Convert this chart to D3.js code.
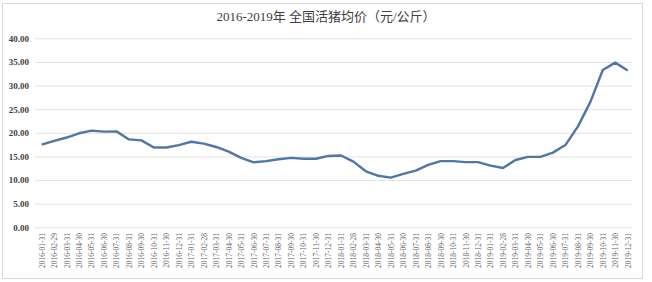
<!DOCTYPE html>
<html>
<head>
<meta charset="utf-8">
<style>
    body { margin: 0; background: #fff; }
</style>
</head>
<body>
    <svg id="container" width="652" height="282"></svg>
</body>
<script src="https://cdn.jsdelivr.net/npm/d3@7"></script>
<script>
    let title = "2016-2019年 全国活猪均价（元/公斤）"

    let dates = [
        "2016-01-31", "2016-02-29", "2016-03-31", "2016-04-30", "2016-05-31", "2016-06-30",
        "2016-07-31", "2016-08-31", "2016-09-30", "2016-10-31", "2016-11-30", "2016-12-31",
        "2017-01-31", "2017-02-28", "2017-03-31", "2017-04-30", "2017-05-31", "2017-06-30",
        "2017-07-31", "2017-08-31", "2017-09-30", "2017-10-31", "2017-11-30", "2017-12-31",
        "2018-01-31", "2018-02-28", "2018-03-31", "2018-04-30", "2018-05-31", "2018-06-30",
        "2018-07-31", "2018-08-31", "2018-09-30", "2018-10-31", "2018-11-30", "2018-12-31",
        "2019-01-31", "2019-02-28", "2019-03-31", "2019-04-30", "2019-05-31", "2019-06-30",
        "2019-07-31", "2019-08-31", "2019-09-30", "2019-10-31", "2019-11-30", "2019-12-31"
    ]

    let prices = [
        17.5, 18.3, 19.0, 19.9, 20.45, 20.25,
        20.3, 18.6, 18.4, 16.9, 16.9, 17.4,
        18.1, 17.7, 17.0, 16.0, 14.7, 13.75,
        14.0, 14.4, 14.7, 14.5, 14.5, 15.1,
        15.2, 13.9, 11.85, 10.9, 10.5, 11.3,
        12.0, 13.2, 14.0, 14.0, 13.8, 13.8,
        13.05, 12.55, 14.25, 14.9, 14.9, 15.8,
        17.4, 21.3, 26.5, 33.3, 34.85, 33.2
    ]

    let yTicks = [0, 5, 10, 15, 20, 25, 30, 35, 40]

    let svg = d3.select("#container")
    let serif = "'Liberation Serif', 'Times New Roman', 'Noto Sans CJK SC', serif"

    // frame
    svg.append("rect")
        .attr("x", 2.5).attr("y", 3.5)
        .attr("width", 640).attr("height", 275)
        .attr("fill", "#fff")
        .attr("stroke", "#d9d9d9")

    svg.append("text")
        .attr("x", 326).attr("y", 21)
        .attr("text-anchor", "middle")
        .style("font-family", serif)
        .style("font-size", "13px")
        .attr("fill", "#404040")
        .text(title)

    let x = d3.scalePoint()
        .domain(dates)
        .range([41.7, 627.7])

    let y = d3.scaleLinear()
        .domain([0, 40])
        .range([227.3, 38.3])

    // grid lines
    svg.append("g")
        .attr("transform", "translate(35,0)")
        .call(d3.axisLeft(y).tickValues(yTicks).tickSize(-597).tickFormat(""))
        .call(g => g.select(".domain").remove())
        .call(g => g.selectAll("line").attr("stroke", "#e3e3e3"))

    // y labels
    svg.append("g")
        .attr("transform", "translate(35,0)")
        .call(d3.axisLeft(y).tickValues(yTicks).tickSize(0).tickPadding(6).tickFormat(d3.format(".2f")))
        .call(g => g.select(".domain").remove())
        .call(g => g.selectAll("text")
            .style("font-family", serif)
            .style("font-size", "9px")
            .style("font-weight", "bold")
            .attr("fill", "#404040"))

    // x labels
    svg.append("g")
        .attr("transform", "translate(0,229)")
        .call(d3.axisBottom(x).tickSize(0).tickPadding(0))
        .call(g => g.select(".domain").remove())
        .call(g => g.selectAll("text")
            .attr("transform", "rotate(-90)")
            .attr("x", -4).attr("y", 0).attr("dy", "0.32em")
            .attr("text-anchor", "end")
            .style("font-family", serif)
            .style("font-size", "7.5px")
            .attr("fill", "#666"))

    let line = d3.line()
        .x((d, i) => x(dates[i]))
        .y(d => y(d))

    svg.append("path")
        .datum(prices)
        .attr("d", line)
        .attr("fill", "none")
        .attr("stroke", "#4f77a6")
        .attr("stroke-width", 2.4)
        .attr("stroke-linejoin", "round")
</script>
</html>
